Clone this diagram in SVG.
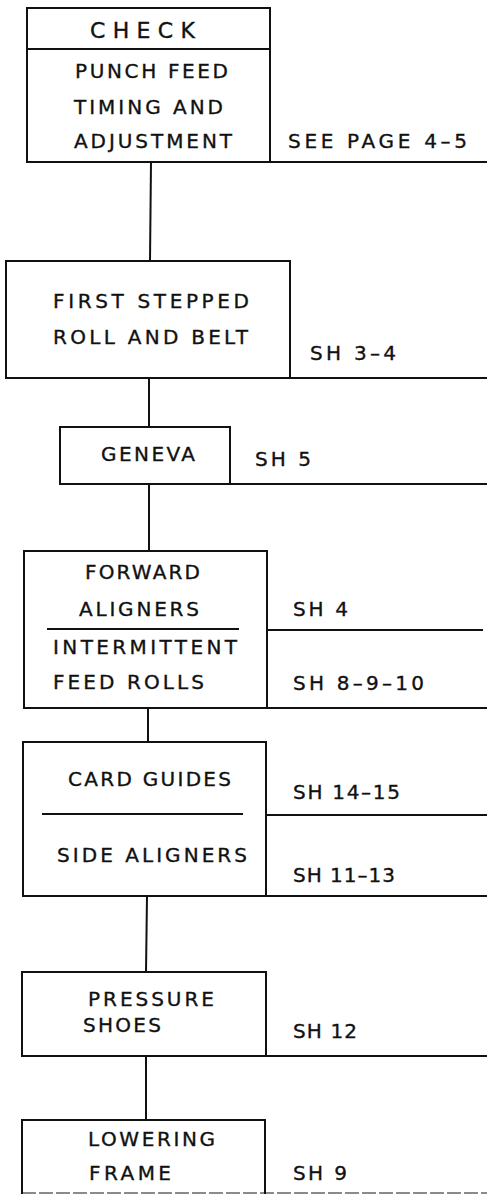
<svg xmlns="http://www.w3.org/2000/svg" width="487" height="1194" viewBox="0 0 487 1194">
<style>
.box{fill:#fff;stroke:#111;stroke-width:2}
.ln{fill:none;stroke:#111;stroke-width:2}
.t{font-family:"DejaVu Sans","Liberation Sans",Arial,sans-serif;font-size:20px;fill:#111;stroke:#111;stroke-width:0.35}
.big{font-size:22px}
</style>
<rect width="487" height="1194" fill="#fff"/>
<g id="connectors">
<line class="ln" x1="270" y1="162" x2="487" y2="162"/>
<line class="ln" x1="151" y1="162" x2="150" y2="261"/>
<line class="ln" x1="290" y1="378" x2="487" y2="378"/>
<line class="ln" x1="149" y1="378" x2="149" y2="427"/>
<line class="ln" x1="230" y1="484" x2="487" y2="484"/>
<line class="ln" x1="149" y1="484" x2="149" y2="551"/>
<line class="ln" x1="267" y1="630" x2="483" y2="630"/>
<line class="ln" x1="267" y1="708" x2="487" y2="708"/>
<line class="ln" x1="148" y1="708" x2="148" y2="742"/>
<line class="ln" x1="266" y1="815" x2="487" y2="815"/>
<line class="ln" x1="266" y1="896" x2="487" y2="896"/>
<line class="ln" x1="147" y1="896" x2="146" y2="972"/>
<line class="ln" x1="266" y1="1056" x2="487" y2="1056"/>
<line class="ln" x1="146" y1="1056" x2="146" y2="1120"/>
<line x1="22" y1="1193" x2="487" y2="1193" stroke="#666" stroke-width="1.5" stroke-dasharray="14 3"/>
</g>
<g id="node-check">
<rect class="box" x="27" y="8" width="243" height="154"/>
<line class="ln" x1="27" y1="49" x2="270" y2="49"/>
<text class="t big" x="90" y="38" textLength="105" lengthAdjust="spacing">CHECK</text>
<text class="t" x="75" y="78" textLength="153" lengthAdjust="spacing">PUNCH FEED</text>
<text class="t" x="74" y="114" textLength="149" lengthAdjust="spacing">TIMING AND</text>
<text class="t" x="74" y="148" textLength="158" lengthAdjust="spacing">ADJUSTMENT</text>
<text class="t" x="288" y="148" textLength="179" lengthAdjust="spacing">SEE PAGE 4–5</text>
</g>
<g id="node-first-stepped">
<rect class="box" x="6" y="261" width="284" height="117"/>
<text class="t" x="53" y="308" textLength="196" lengthAdjust="spacing">FIRST STEPPED</text>
<text class="t" x="53" y="344" textLength="195" lengthAdjust="spacing">ROLL AND BELT</text>
<text class="t" x="310" y="360" textLength="86" lengthAdjust="spacing">SH 3–4</text>
</g>
<g id="node-geneva">
<rect class="box" x="60" y="427" width="170" height="57"/>
<text class="t" x="101" y="461" textLength="94" lengthAdjust="spacing">GENEVA</text>
<text class="t" x="255" y="466" textLength="56" lengthAdjust="spacing">SH 5</text>
</g>
<g id="node-aligners">
<rect class="box" x="24" y="551" width="243" height="157"/>
<line class="ln" x1="47" y1="629" x2="239" y2="629"/>
<text class="t" x="85" y="579" textLength="115" lengthAdjust="spacing">FORWARD</text>
<text class="t" x="79" y="616" textLength="120" lengthAdjust="spacing">ALIGNERS</text>
<text class="t" x="53" y="654" textLength="184" lengthAdjust="spacing">INTERMITTENT</text>
<text class="t" x="53" y="689" textLength="151" lengthAdjust="spacing">FEED ROLLS</text>
<text class="t" x="293" y="616" textLength="55" lengthAdjust="spacing">SH 4</text>
<text class="t" x="293" y="690" textLength="131" lengthAdjust="spacing">SH 8–9–10</text>
</g>
<g id="node-card-guides">
<rect class="box" x="23" y="742" width="243" height="154"/>
<line class="ln" x1="42" y1="814" x2="243" y2="814"/>
<text class="t" x="68" y="786" textLength="163" lengthAdjust="spacing">CARD GUIDES</text>
<text class="t" x="57" y="862" textLength="190" lengthAdjust="spacing">SIDE ALIGNERS</text>
<text class="t" x="293" y="799" textLength="107" lengthAdjust="spacing">SH 14–15</text>
<text class="t" x="293" y="882" textLength="102" lengthAdjust="spacing">SH 11–13</text>
</g>
<g id="node-pressure">
<rect class="box" x="22" y="972" width="244" height="84"/>
<text class="t" x="88" y="1006" textLength="126" lengthAdjust="spacing">PRESSURE</text>
<text class="t" x="83" y="1032" textLength="78" lengthAdjust="spacing">SHOES</text>
<text class="t" x="293" y="1038" textLength="64" lengthAdjust="spacing">SH 12</text>
</g>
<g id="node-lowering">
<path class="ln" d="M22,1196 V1120 H265 V1196"/>
<text class="t" x="88" y="1146" textLength="127" lengthAdjust="spacing">LOWERING</text>
<text class="t" x="89" y="1180" textLength="82" lengthAdjust="spacing">FRAME</text>
<text class="t" x="293" y="1180" textLength="54" lengthAdjust="spacing">SH 9</text>
</g>
</svg>
